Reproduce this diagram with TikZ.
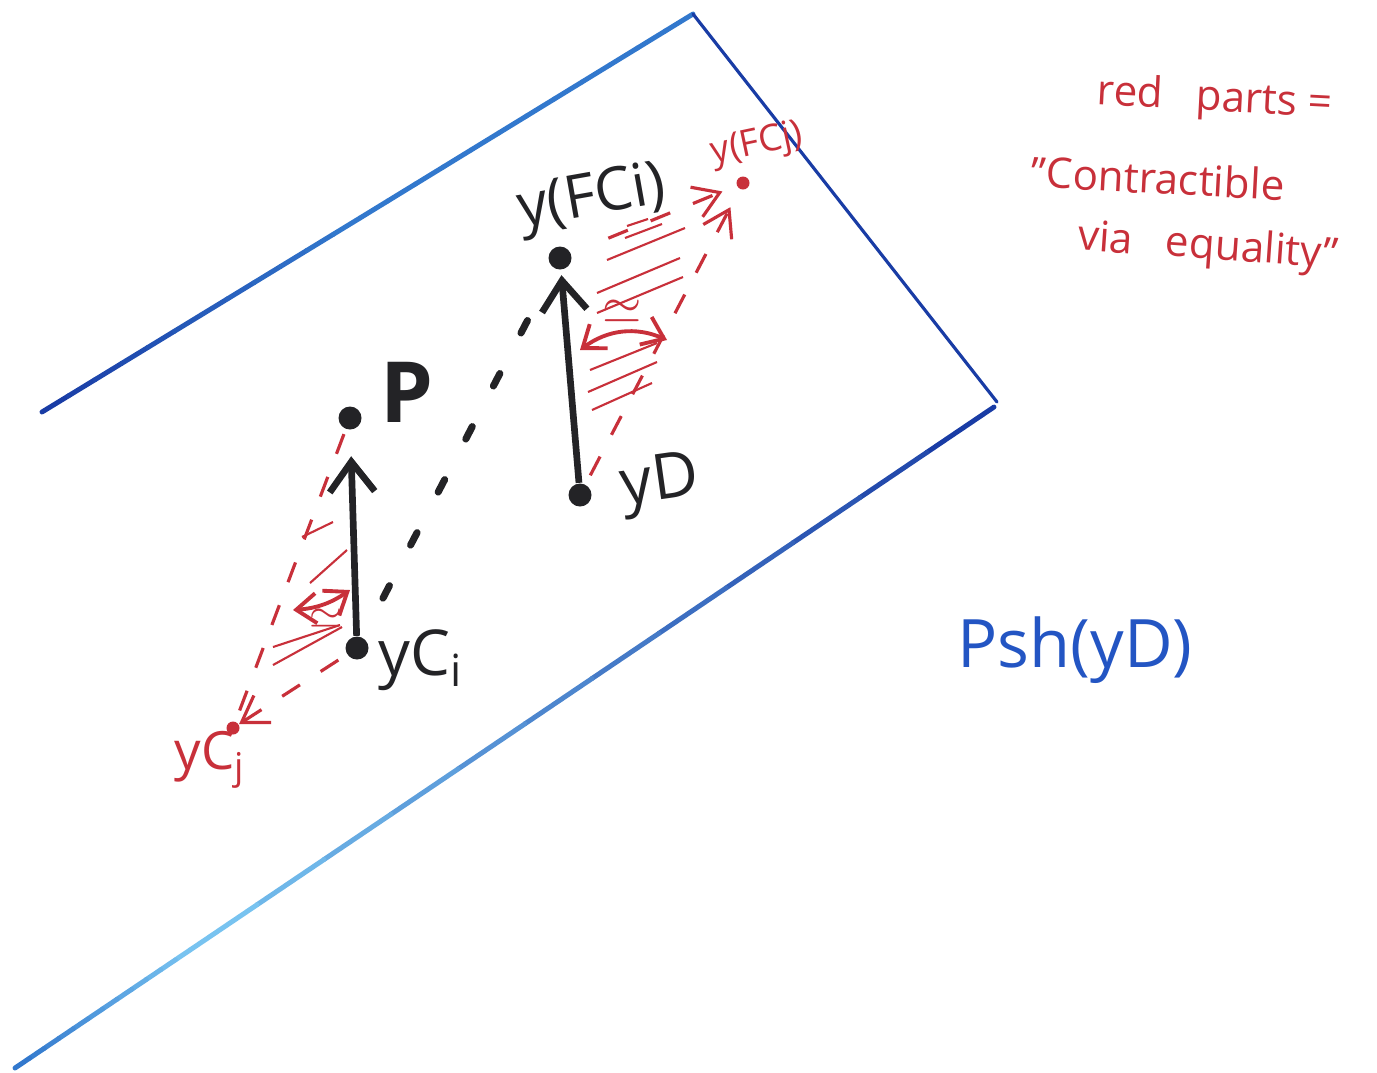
\documentclass[tikz,border=0pt]{standalone}
\usepackage{fontspec}
\setsansfont{Open Sans}
\usetikzlibrary{positioning,calc,arrows.meta}
\definecolor{ink}{RGB}{35,35,38}
\definecolor{cRed}{RGB}{200,48,58}
\definecolor{cBlue}{RGB}{35,85,195}
\definecolor{bandDark}{RGB}{25,60,165}
\definecolor{bandMid}{RGB}{50,120,205}
\definecolor{bandLight}{RGB}{120,195,240}
% one edge of the band, colour fading from #3 to #4
\newcommand{\fadeline}[4]{%
  \foreach \k in {0,...,11}{%
    \pgfmathsetmacro\ka{\k/12}\pgfmathsetmacro\kb{(\k+1)/12}%
    \pgfmathtruncatemacro\mix{100-100*\k/11}%
    \draw[band, draw=#3!\mix!#4] ($(#1)!\ka!(#2)$) -- ($(#1)!\kb!(#2)$);
  }}

\begin{document}
\begin{tikzpicture}[
  x=0.01cm, y=-0.01cm,
  font=\sffamily,
  band/.style={line width=1.4pt, line cap=round},
  dot/.style={circle, fill=ink, inner sep=0pt, minimum size=2.3mm},
  rdot/.style={circle, fill=cRed, inner sep=0pt, minimum size=1.3mm},
  lift/.style={-{Straight Barb[length=3mm, width=4.5mm]}, line width=1.9pt, draw=ink},
  guess/.style={line width=2pt, draw=ink, line cap=round, dash pattern=on 4pt off 13pt},
  rdash/.style={draw=cRed, line width=0.9pt, dash pattern=on 6pt off 7pt},
  rarr/.style={-{Straight Barb[length=2.5mm, width=3.2mm]}, draw=cRed, line width=0.9pt},
  iso/.style={{Straight Barb[length=2mm, width=3mm]}-{Straight Barb[length=2mm, width=3mm]}, draw=cRed, line width=1.1pt},
  hatch/.style={draw=cRed, line width=0.6pt},
  lbl/.style={text=ink, inner sep=0pt, font=\sffamily\fontsize{18}{20}\selectfont},
  rlbl/.style={text=cRed, inner sep=0pt, font=\sffamily\fontsize{12}{14}\selectfont},
]
\useasboundingbox (0,0) rectangle (1377,1072);

% ---- the blue band ----
\coordinate (tl) at (42,412);
\coordinate (tr) at (693,14);
\coordinate (rr) at (997,402);
\coordinate (br) at (994,407);
\coordinate (bm) at (190,950);
\coordinate (bl) at (15,1068);
\coordinate (tm) at (360,218);
\fadeline{tl}{tm}{bandDark}{bandMid}
\fadeline{tm}{tr}{bandMid}{bandMid}
\draw[band, line width=0.9pt, draw=bandDark] (tr) -- (rr);
\fadeline{br}{bm}{bandDark}{bandLight}
\fadeline{bm}{bl}{bandLight}{bandMid}

% ---- points ----
\node[dot] (P) at (350,418) {};
\node[dot] (yCi) at (357,648) {};
\node[dot] (FCi) at (560,258) {};
\node[dot] (yD) at (580,495) {};
\node[rdot] (yCj) at (233,728) {};
\node[rdot] (FCj) at (743,183) {};

\node[lbl, font=\sffamily\bfseries\fontsize{24}{26}\selectfont] (Plab) at ($(P)+(57,-26)$) {P};
\node[lbl] (yCilab) at ($(yCi)+(64,12)$) {yC\textsubscript{i}};
\node[lbl, font=\sffamily\fontsize{17}{19}\selectfont, rotate=10] (FCilab) at ($(FCi)+(32,-58)$) {y(FCi)};
\node[lbl, rotate=8] (yDlab) at ($(yD)+(80,-10)$) {yD};
\node[rlbl, font=\sffamily\fontsize{15}{17}\selectfont] (yCjlab) at ($(yCj)+(-23,32)$) {yC\textsubscript{j}};
\node[rlbl, font=\sffamily\fontsize{10.5}{12}\selectfont, rotate=12] (FCjlab) at ($(FCj)+(14,-38)$) {y(FCj)};

% ---- black arrows ----
\draw[lift, shorten >=2.6mm] (yCi) -- (P);
\draw[lift, shorten >=0.5mm] (yD) -- (FCi);
\draw[guess, shorten <=4.4mm, shorten >=2mm] (yCi) -- (FCi);

% ---- red parts, left ----
\draw[rdash, shorten <=0.5mm] (P) -- (yCj);
\draw[rdash, rarr, shorten <=1mm] (yCi) -- (yCj);
\draw[hatch] (302,537) -- (333,522) (310,583) -- (347,550)
             (273,647) -- (340,625) (273,665) -- (342,627);
\draw[iso] (293,610) to[bend right=15] node[below, text=cRed, inner sep=1pt, pos=0.55, font=\large] {$\simeq$} (350,590);

% ---- red parts, right ----
\draw[rdash, rarr, shorten <=4mm, shorten >=1.5mm] (FCi) -- (FCj);
\draw[rdash, rarr, shorten <=1mm, shorten >=2mm] (yD) -- (FCj);
\draw[hatch] (627,226) -- (648,219) (625,238) -- (662,224) (607,260) -- (685,228)
             (597,293) -- (680,258) (597,313) -- (683,277)
             (590,370) -- (657,343) (588,392) -- (657,362) (592,410) -- (652,383);
\draw[iso] (580,350) to[bend left=30] node[above, text=cRed, inner sep=2pt, font=\Large] {$\simeq$} (667,340);

% ---- notes ----
\node[rlbl, rotate=-3] (note1) at (1215,100) {red\ \ \ parts =};
\node[rlbl, rotate=-3] (note2) at (1158,178) {''Contractible};
\node[rlbl, rotate=-4] (note3) at (1208,248) {via\ \ \ equality''};
\node[text=cBlue, inner sep=0pt, font=\sffamily\fontsize{19}{21}\selectfont] (psh) at (1075,650) {Psh(yD)};

\end{tikzpicture}
\end{document}
